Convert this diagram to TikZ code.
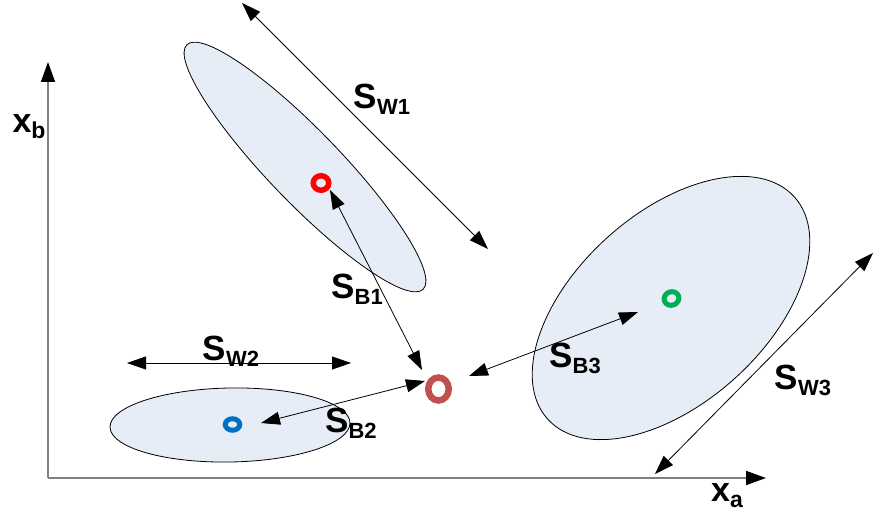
\documentclass[tikz,border=0pt]{standalone}
\usepackage{fontspec}
\setmainfont{Liberation Sans}
\usetikzlibrary{arrows.meta,shapes.geometric}

\definecolor{cloud}{RGB}{230,237,247}
\definecolor{axisgray}{RGB}{128,128,128}
\definecolor{meanred}{RGB}{255,0,0}
\definecolor{meanblue}{RGB}{0,112,192}
\definecolor{meangreen}{RGB}{0,176,80}
\definecolor{meanbrown}{RGB}{192,80,77}

% symbol with a bold subscript, e.g. S_{W1}
\newcommand\symsub[4]{{\fontsize{#3}{#3}\selectfont #1}\raisebox{-6pt}{\fontsize{#4}{#4}\selectfont #2}}

\tikzset{
  cluster/.style={draw=black, line width=0.8pt, fill=cloud, ellipse, inner sep=0pt},
  meanpt/.style={ellipse, draw=#1, line width=5pt, inner sep=0pt},
  axisline/.style={draw=axisgray, line width=1.6pt, -{Triangle[length=20pt,width=14pt,fill=black,color=black]}},
  span/.style={draw=black, line width=0.8pt, {Triangle[length=19pt,width=13pt]}-{Triangle[length=19pt,width=13pt]}},
  lbl/.style={font=\bfseries, inner sep=0pt, anchor=center},
}

\begin{document}
\begin{tikzpicture}[x=1pt, y=-1pt]
  \useasboundingbox (0,0) rectangle (875,521);

  % class scatter regions
  \node[cluster, minimum width=340pt, minimum height=72pt, rotate=-46] (c1) at (305,167) {};
  \node[cluster, minimum width=240pt, minimum height=74pt, rotate=1] (c2) at (230,425) {};
  \node[cluster, minimum width=332pt, minimum height=190pt, rotate=42] (c3) at (671,308) {};

  % axes
  \coordinate (o) at (48,478);
  \coordinate (ytip) at (48,62);
  \coordinate (xtip) at (766,478);
  \draw[axisline] (o) -- (ytip);
  \draw[axisline] (o) -- (xtip);
  \node[lbl] (xb) at (29,127) {\symsub{x}{b}{34}{23}};
  \node[lbl] (xa) at (727,496) {\symsub{x}{a}{34}{23}};

  % class means and overall mean
  \node[meanpt=meanred, line width=5.5pt, minimum width=15.5pt, minimum height=14.5pt] (m1) at (321,183) {};
  \node[meanpt=meanblue, minimum width=14.5pt, minimum height=11.5pt] (m2) at (232.5,424.5) {};
  \node[meanpt=meangreen, minimum width=15pt, minimum height=13.5pt, rotate=20] (m3) at (671.5,298.5) {};
  \node[meanpt=meanbrown, line width=6.5pt, minimum width=20.5pt, minimum height=23pt] (m) at (438.5,389) {};

  % within-class spreads
  \coordinate (w1a) at (242,3);
  \coordinate (w1b) at (488,249);
  \draw[span] (w1a) -- (w1b);
  \coordinate (w2a) at (127,363);
  \coordinate (w2b) at (351,363);
  \draw[span] (w2a) -- (w2b);
  \coordinate (w3a) at (655,474);
  \coordinate (w3b) at (873,253);
  \draw[span] (w3a) -- (w3b);

  % between-class distances
  \coordinate (b1a) at (330,190);
  \coordinate (b1b) at (422,370);
  \draw[span] (b1a) -- (b1b);
  \coordinate (b2a) at (261,423);
  \coordinate (b2b) at (425,381);
  \draw[span] (b2a) -- (b2b);
  \coordinate (b3a) at (469,376);
  \coordinate (b3b) at (638,312);
  \draw[span] (b3a) -- (b3b);

  % labels
  \node[lbl] (lw1) at (382,99) {\symsub{S}{W1}{35}{22}};
  \node[lbl] (lw2) at (231,351) {\symsub{S}{W2}{35}{22}};
  \node[lbl] (lw3) at (803,380) {\symsub{S}{W3}{35}{22}};
  \node[lbl] (lb1) at (357,289) {\symsub{S}{B1}{35}{22}};
  \node[lbl] (lb2) at (351,423) {\symsub{S}{B2}{35}{22}};
  \node[lbl] (lb3) at (575,358) {\symsub{S}{B3}{35}{22}};
\end{tikzpicture}
\end{document}
